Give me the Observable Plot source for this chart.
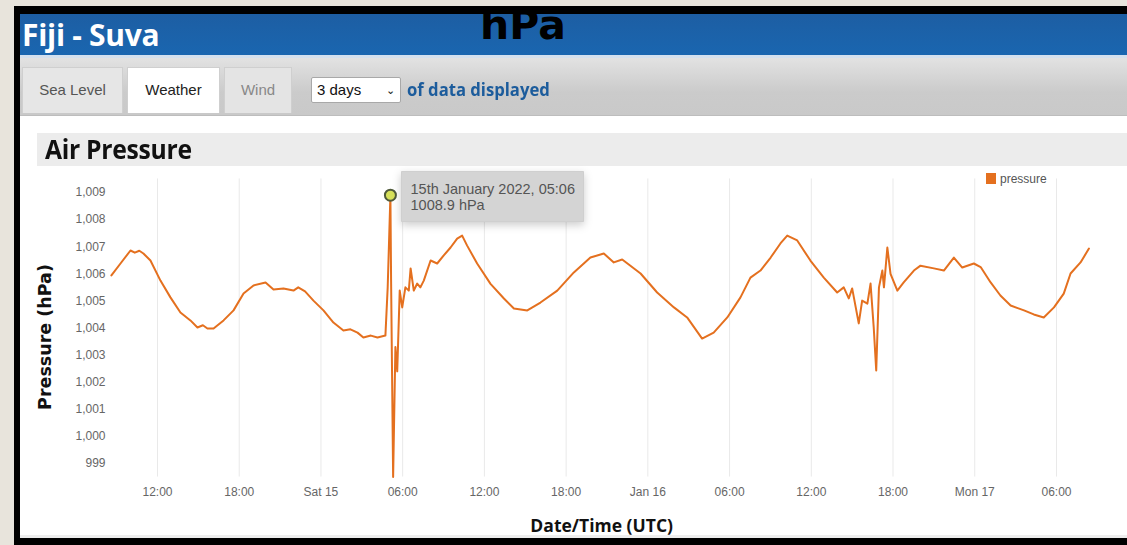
<!DOCTYPE html>
<html>
<head>
<meta charset="utf-8">
<script src="https://cdn.jsdelivr.net/npm/d3@7"></script>
<script src="https://cdn.jsdelivr.net/npm/@observablehq/plot@0.6"></script>
<style>
  html, body { margin: 0; padding: 0; }
  body { width: 1127px; height: 545px; overflow: hidden; position: relative; background: #e8e4dc; font-family: "Liberation Sans", Arial, sans-serif; }
  .abs { position: absolute; }
  #frame { left: 14px; top: 6px; right: 0; bottom: 0; background: #000; }
  #white { left: 20px; top: 14px; right: 0; bottom: 7px; background: #fff; }
  #header { left: 20px; top: 14px; right: 0; height: 41px; background: linear-gradient(#1d5ea3, #1a66b0); }
  #header span { position: absolute; left: 2px; top: 6px; color: #fff; font: bold 30px/30px "Open Sans", sans-serif; letter-spacing: -0.3px; }
  #hline { left: 20px; top: 55px; right: 0; height: 3px; background: #d4e0ee; }
  #tabbar { left: 20px; top: 58px; right: 0; height: 57px; background: linear-gradient(#e2e2e2, #cbcbcb 60%, #c9c9c9); border-bottom: 1px solid #bdbdbd; }
  .tab { position: absolute; top: 9px; height: 46px; line-height: 44px; text-align: center; font-size: 15px; border: 1px solid #cfcfcf; border-bottom: none; box-sizing: border-box; }
  #sel { left: 311px; top: 77px; width: 90px; height: 26px; background: #fff; border: 1px solid #a8a8a8; border-radius: 2px; box-sizing: border-box; font: 15px "Liberation Sans", Arial, sans-serif; color: #111; line-height: 24px; padding-left: 5px; }
  #sel b { position: absolute; right: 5px; top: 0; font-weight: normal; font-size: 11px; }
  #ofdata { left: 407px; top: 78px; color: #1c5c9c; font: bold 17px "Open Sans", sans-serif; transform: scaleX(0.98); transform-origin: left; }
  #hpa { left: 480px; top: 1px; color: #000; font: bold 41px "DejaVu Sans", sans-serif; line-height: normal; }
  #band { left: 37px; top: 133px; right: 0; height: 33px; background: #ececec; }
  #band span { position: absolute; left: 8px; top: 3px; font: bold 26px/26px "Open Sans", sans-serif; color: #111; transform: scaleX(0.95); transform-origin: left; letter-spacing: -0.3px; }
  #chart { left: 0; top: 168px; }
  #legend { left: 986px; top: 172px; font: 12px "Liberation Sans", Arial, sans-serif; color: #555; }
  #legend i { display: inline-block; width: 10px; height: 11px; background: #e4701f; vertical-align: -1px; margin-right: 4px; }
  #botline { left: 20px; top: 535px; right: 0; height: 3px; background: #eee; }
  g[aria-label="x-axis label"] text { font: bold 17.5px "Open Sans", sans-serif; fill: #111; }
  g[aria-label="y-axis label"] text { font: bold 17.5px "DejaVu Sans", sans-serif; fill: #111; }
  g[aria-label="y-axis label"] { translate: 0px 9px; }
  g[aria-label="tip"] text, g[aria-label="tip"] tspan { fill: #555 !important; }
</style>
</head>
<body>
<div class="abs" id="frame"></div>
<div class="abs" id="white"></div>
<div class="abs" id="header"><span>Fiji - Suva</span></div>
<div class="abs" id="hline"></div>
<div class="abs" id="tabbar">
  <div class="tab" style="left:2px;width:101px;background:#e6e6e6;color:#555;">Sea Level</div>
  <div class="tab" style="left:107px;width:93px;background:#fff;color:#222;">Weather</div>
  <div class="tab" style="left:204px;width:68px;background:#e4e4e4;color:#888;">Wind</div>
</div>
<div class="abs" id="sel">3 days<b>&#8964;</b></div>
<div class="abs" id="ofdata">of data displayed</div>
<div class="abs" id="hpa">hPa</div>
<div class="abs" id="band"><span>Air Pressure</span></div>
<div class="abs" id="botline"></div>
<div class="abs" id="chart"></div>
<div class="abs" id="legend"><i></i>pressure</div>
<script>
// ---- data ----
const times = [
  "2022-01-14T08:37Z","2022-01-14T09:17Z","2022-01-14T10:01Z","2022-01-14T10:20Z","2022-01-14T10:40Z","2022-01-14T10:58Z",
  "2022-01-14T11:29Z","2022-01-14T12:13Z","2022-01-14T12:57Z","2022-01-14T13:41Z","2022-01-14T14:25Z","2022-01-14T14:56Z",
  "2022-01-14T15:20Z","2022-01-14T15:40Z","2022-01-14T16:07Z","2022-01-14T16:51Z","2022-01-14T17:35Z","2022-01-14T18:19Z",
  "2022-01-14T19:03Z","2022-01-14T19:56Z","2022-01-14T20:31Z","2022-01-14T21:15Z","2022-01-14T21:59Z","2022-01-14T22:20Z",
  "2022-01-14T22:50Z","2022-01-14T23:27Z","2022-01-15T00:11Z","2022-01-15T00:55Z","2022-01-15T01:39Z","2022-01-15T02:10Z",
  "2022-01-15T02:41Z","2022-01-15T03:07Z","2022-01-15T03:40Z","2022-01-15T04:09Z","2022-01-15T04:44Z","2022-01-15T04:54Z",
  "2022-01-15T05:06Z","2022-01-15T05:09Z","2022-01-15T05:18Z","2022-01-15T05:28Z","2022-01-15T05:36Z","2022-01-15T05:47Z",
  "2022-01-15T05:58Z","2022-01-15T06:12Z","2022-01-15T06:27Z","2022-01-15T06:35Z","2022-01-15T06:49Z","2022-01-15T07:04Z",
  "2022-01-15T07:18Z","2022-01-15T07:33Z","2022-01-15T08:03Z","2022-01-15T08:32Z","2022-01-15T09:01Z","2022-01-15T09:31Z",
  "2022-01-15T10:00Z","2022-01-15T10:22Z","2022-01-15T10:44Z","2022-01-15T11:28Z","2022-01-15T12:27Z","2022-01-15T13:26Z",
  "2022-01-15T14:10Z","2022-01-15T15:09Z","2022-01-15T16:07Z","2022-01-15T17:21Z","2022-01-15T18:34Z","2022-01-15T19:47Z",
  "2022-01-15T20:46Z","2022-01-15T21:30Z","2022-01-15T22:07Z","2022-01-15T23:28Z","2022-01-16T00:41Z","2022-01-16T01:55Z",
  "2022-01-16T02:53Z","2022-01-16T03:59Z","2022-01-16T04:50Z","2022-01-16T05:50Z","2022-01-16T06:48Z","2022-01-16T07:32Z",
  "2022-01-16T08:16Z","2022-01-16T09:01Z","2022-01-16T09:44Z","2022-01-16T10:14Z","2022-01-16T10:58Z","2022-01-16T11:56Z",
  "2022-01-16T12:55Z","2022-01-16T13:54Z","2022-01-16T14:23Z","2022-01-16T14:45Z","2022-01-16T15:00Z","2022-01-16T15:29Z",
  "2022-01-16T15:44Z","2022-01-16T16:07Z","2022-01-16T16:21Z","2022-01-16T16:35Z","2022-01-16T16:46Z","2022-01-16T16:58Z",
  "2022-01-16T17:13Z","2022-01-16T17:20Z","2022-01-16T17:35Z","2022-01-16T17:49Z","2022-01-16T18:19Z","2022-01-16T18:47Z",
  "2022-01-16T19:32Z","2022-01-16T20:01Z","2022-01-16T21:00Z","2022-01-16T21:44Z","2022-01-16T22:28Z","2022-01-16T23:05Z",
  "2022-01-16T23:56Z","2022-01-17T00:26Z","2022-01-17T01:10Z","2022-01-17T01:53Z","2022-01-17T02:38Z","2022-01-17T03:37Z",
  "2022-01-17T04:20Z","2022-01-17T05:04Z","2022-01-17T05:49Z","2022-01-17T06:32Z","2022-01-17T07:02Z","2022-01-17T07:46Z",
  "2022-01-17T08:23Z"
];
const pressure = [
  1005.94,1006.38,1006.86,1006.78,1006.85,1006.75,
  1006.49,1005.75,1005.13,1004.57,1004.28,1004.02,
  1004.10,1003.98,1003.98,1004.28,1004.65,1005.27,
  1005.57,1005.68,1005.42,1005.46,1005.38,1005.50,
  1005.35,1005.01,1004.65,1004.20,1003.91,1003.95,
  1003.83,1003.65,1003.72,1003.65,1003.72,1005.50,
  1008.90,1005.75,998.50,1003.30,1002.40,1005.38,
  1004.76,1005.50,1005.38,1006.20,1005.38,1005.64,
  1005.50,1005.75,1006.49,1006.38,1006.68,1006.97,
  1007.30,1007.41,1007.04,1006.38,1005.63,1005.09,
  1004.72,1004.65,1004.94,1005.38,1006.05,1006.60,
  1006.75,1006.42,1006.53,1006.01,1005.31,1004.76,
  1004.39,1003.61,1003.83,1004.39,1005.13,1005.86,
  1006.12,1006.60,1007.12,1007.41,1007.23,1006.49,
  1005.86,1005.31,1005.50,1005.09,1005.46,1004.17,
  1005.01,1004.90,1005.64,1004.02,1002.43,1005.50,
  1006.12,1005.50,1006.97,1006.00,1005.38,1005.68,
  1006.12,1006.30,1006.20,1006.12,1006.60,1006.23,
  1006.38,1006.25,1005.68,1005.20,1004.83,1004.65,
  1004.50,1004.39,1004.76,1005.27,1006.01,1006.42,
  1006.93
];
const xTickTimes = [
  "2022-01-14T12:00Z","2022-01-14T18:00Z","2022-01-15T00:00Z","2022-01-15T06:00Z",
  "2022-01-15T12:00Z","2022-01-15T18:00Z","2022-01-16T00:00Z","2022-01-16T06:00Z",
  "2022-01-16T12:00Z","2022-01-16T18:00Z","2022-01-17T00:00Z","2022-01-17T06:00Z"
];
const xTickLabels = ["12:00","18:00","Sat 15","06:00","12:00","18:00","Jan 16","06:00","12:00","18:00","Mon 17","06:00"];
const yTicks = [999,1000,1001,1002,1003,1004,1005,1006,1007,1008,1009];
const xDomain = ["2022-01-14T08:33Z","2022-01-17T08:40Z"];
const yDomain = [998.5, 1009.5];

// ---- build ----
const data = times.map((t, i) => ({time: new Date(t), pressure: pressure[i]}));
const tickDates = xTickTimes.map(t => new Date(t));
const tickMap = new Map(tickDates.map((d, i) => [+d, xTickLabels[i]]));
const peak = [d3.greatest(data, d => d.pressure)];
const ord = n => { const s = ["th","st","nd","rd"], v = n % 100; return n + (s[(v - 20) % 10] || s[v] || s[0]); };
const tipText = d => `${ord(d.time.getUTCDate())} ${d3.utcFormat("%B %Y, %H:%M")(d.time)}\n${d3.format(".1f")(d.pressure)} hPa`;

const chart = Plot.plot({
  width: 1127,
  height: 370,
  marginLeft: 110,
  marginRight: 34.7,
  marginTop: 10.45,
  marginBottom: 61.45,
  style: {background: "transparent", fontFamily: "'Liberation Sans', Arial, sans-serif", fontSize: "12px", color: "#666", overflow: "visible"},
  x: {type: "utc", domain: xDomain.map(t => new Date(t)), ticks: tickDates, tickFormat: d => tickMap.get(+d), tickSize: 0, tickPadding: 10,
      label: "Date/Time (UTC)", labelAnchor: "center", labelArrow: "none", labelOffset: 55},
  y: {domain: yDomain, ticks: yTicks, tickFormat: d3.format(","), tickSize: 0, tickPadding: 5,
      label: "Pressure (hPa)", labelAnchor: "center", labelArrow: "none", labelOffset: 72},
  marks: [
    Plot.gridX(tickDates, {stroke: "#e9e9e9", strokeOpacity: 1}),
    Plot.line(data, {x: "time", y: "pressure", stroke: "#e4701f", strokeWidth: 2}),
    Plot.dot(peak, {x: "time", y: "pressure", r: 5.5, fill: "#d6e05a", stroke: "#4f5a3a", strokeWidth: 2}),
    Plot.tip(peak, {x: "time", y: "pressure", title: tipText, anchor: "top-left", pointerSize: 0, dx: 11, dy: -24,
      fill: "#d4d4d4", stroke: "#cfcfcf", fontSize: 14.5, lineHeight: 1.1, textPadding: 9, fontFamily: "'Liberation Sans', Arial, sans-serif"})
  ]
});
document.getElementById("chart").appendChild(chart);
</script>
</body>
</html>
